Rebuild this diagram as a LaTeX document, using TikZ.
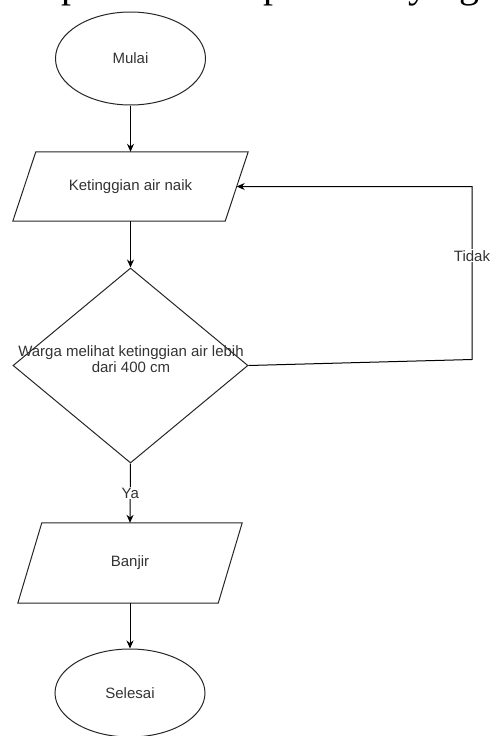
\documentclass[tikz,border=0pt]{standalone}
\usepackage{fontspec}
\setmainfont{Liberation Sans}
\newfontfamily\seriffont{Liberation Serif}
\usetikzlibrary{shapes.geometric,arrows.meta,calc}
\begin{document}
\begin{tikzpicture}[x=1pt,y=1pt,
  every node/.style={font=\fontsize{15}{16}\selectfont, text=black!80},
  term/.style={ellipse, draw=black!85, line width=1pt, minimum width=150pt, minimum height=93pt, inner sep=0pt},
  iobox/.style={rectangle, inner sep=0pt},
  shapeline/.style={draw=black!85, line width=1pt, line join=miter},
  decide/.style={diamond, draw=black!85, line width=1pt, minimum width=235pt, minimum height=195pt, inner sep=0pt},
  flow/.style={draw=black, line width=1pt, -{Stealth[length=8pt,width=7pt]}},
  edgelabel/.style={fill=white, inner sep=1pt},
  cuttext/.style={font=\seriffont\fontsize{40}{40}\selectfont, text=black, inner sep=0pt, outer sep=0pt, text height=0pt, text depth=0pt, anchor=base west}]
\useasboundingbox (0,0) rectangle (494,-736);
\begin{scope}
\clip (0,0) rectangle (494,-736);
% cut-off line of text above the picture
\node[cuttext] (c1) at (61,2) {p};
\node[cuttext] (c2) at (263,2) {p};
\node[cuttext] (c3) at (408,2) {y};
\node[cuttext] (c4) at (459,2) {g};

% nodes
\node[term] (mulai) at (130.5,-58.5) {Mulai};
\node[iobox, minimum width=235pt, minimum height=69pt] (naik) at (130.5,-186.5) {Ketinggian air naik};
\draw[shapeline] ($(naik.north west)+(23,0)$) -- (naik.north east) -- ($(naik.south east)+(-23,0)$) -- (naik.south west) -- cycle;
\coordinate (naikR) at ($(naik.east)+(-11.5,0)$);

\node[decide] (cek) at (130.5,-365.5) {};
\node[align=center] (cektext) at (131,-359) {Warga melihat ketinggian air lebih\\dari 400 cm};

\node[iobox, minimum width=224pt, minimum height=80pt] (banjir) at (130,-563) {Banjir};
\draw[shapeline] ($(banjir.north west)+(24,0)$) -- (banjir.north east) -- ($(banjir.south east)+(-24,0)$) -- (banjir.south west) -- cycle;

\node[term, minimum height=88pt] (selesai) at (130,-693) {Selesai};

% connectors
\draw[flow] (mulai.south) -- (naik.north);
\draw[flow] (naik.south) -- (cek.north);
\draw[flow] (cek.south) -- node[edgelabel, midway] (ya) {Ya} (banjir.north);
\draw[flow] (banjir.south) -- (selesai.north);

\coordinate (t1) at (472,-359.5);
\coordinate (t2) at (472,-186.5);
\draw[flow] (cek.east) -- (t1) -- node[edgelabel, pos=0.6] (tidak) {Tidak} (t2) -- (naikR);
\end{scope}
\end{tikzpicture}
\end{document}
